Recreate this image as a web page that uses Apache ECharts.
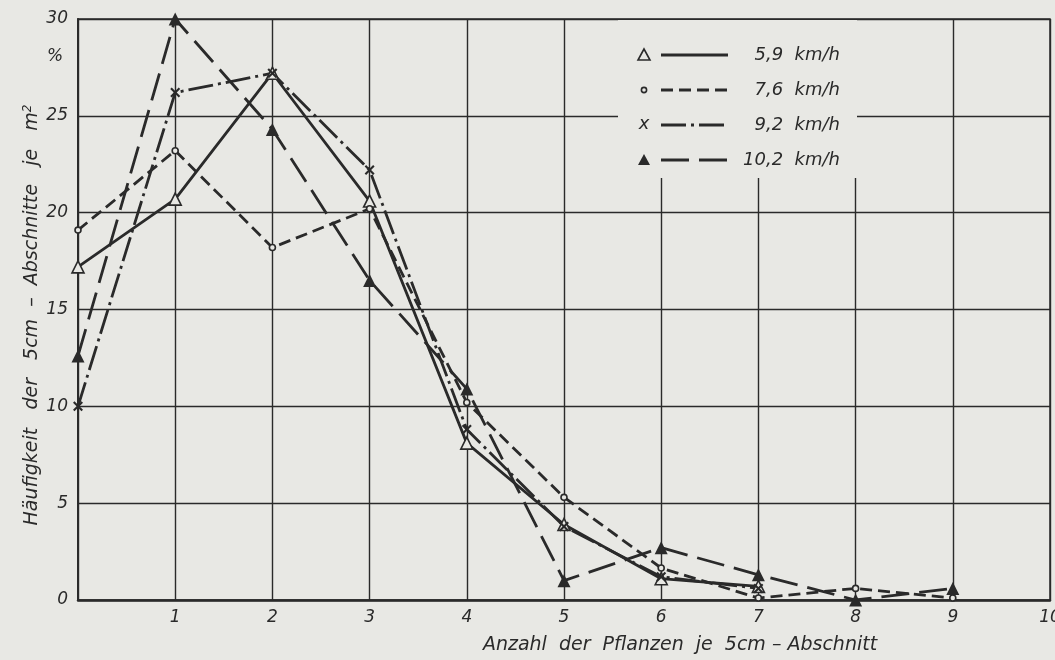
<!DOCTYPE html>
<html><head><meta charset="utf-8">
<script src="https://cdn.jsdelivr.net/npm/echarts@6/dist/echarts.min.js"></script>
<style>html,body{margin:0;padding:0;background:#e8e8e4;}#c{width:1055px;height:660px;}</style>
</head><body><div id="c"></div>
<script>
const xs = [0,1,2,3,4,5,6,7,8,9];
const xTickLabels = ['0','1','2','3','4','5','6','7','8','9','10'];
const yTickLabels = ['0','5','10','15','20','25','30'];
const seriesNames = ['5,9  km/h','7,6  km/h','9,2  km/h','10,2  km/h'];
const v59  = [17.2, 20.7, 27.2, 20.6, 8.1, 3.9, 1.1, 0.7];
const v76  = [19.1, 23.2, 18.2, 20.2, 10.2, 5.3, 1.65, 0.1, 0.6, 0.1];
const v92  = [10.0, 26.2, 27.2, 22.2, 8.8, 3.8, 1.2, 0.6];
const v102 = [12.6, 30.0, 24.3, 16.5, 10.9, 1.0, 2.7, 1.3, 0.0, 0.6];

const INK = '#2a2a2a', BG = '#e8e8e4';
const FONT = 'italic 18px "DejaVu Sans"';
const pairs = v => v.map((y,i)=>[xs[i], y]);
const crossPath = 'path://M0,1.5L1.5,0L5,3.5L8.5,0L10,1.5L6.5,5L10,8.5L8.5,10L5,6.5L1.5,10L0,8.5L3.5,5Z';

const chart = echarts.init(document.getElementById('c'));
const font = {fontFamily:'DejaVu Sans', fontStyle:'italic', color:INK};
chart.setOption({
  backgroundColor: BG,
  animation:false,
  grid:{left:78, top:19, right:5, bottom:60, show:true, borderColor:INK, borderWidth:1.5, outerBoundsMode:'none', containLabel:false},
  xAxis:{type:'value', min:0, max:10, interval:1,
    axisLine:{show:true, lineStyle:{color:INK, width:2.5}}, axisTick:{show:false},
    splitLine:{show:true, lineStyle:{color:INK, width:1.4}},
    axisLabel:Object.assign({fontSize:17, margin:9, showMinLabel:false,
      formatter:(v)=>xTickLabels[Math.round(v)]}, font)},
  yAxis:{type:'value', min:0, max:30, interval:5,
    axisLine:{show:true, lineStyle:{color:INK, width:2}}, axisTick:{show:false},
    splitLine:{show:true, lineStyle:{color:INK, width:1.4}},
    axisLabel:Object.assign({fontSize:17, margin:10, formatter:(v)=>yTickLabels[Math.round(v/5)]}, font)},
  graphic:[
    {type:'rect', z:50, shape:{x:618, y:20, width:239, height:158}, style:{fill:BG}},
    {type:'polygon', z:51, shape:{points:[[644,49],[638,60],[650,60]]}, style:{fill:BG, stroke:INK, lineWidth:1.6}},
    {type:'line', z:51, shape:{x1:661,y1:55,x2:728,y2:55}, style:{stroke:INK, lineWidth:2.8}},
    {type:'text', z:51, style:{text:seriesNames[0], x:840, y:55, align:'right', verticalAlign:'middle', font:FONT, fill:INK}},
    {type:'circle', z:51, shape:{cx:644, cy:90, r:2.6}, style:{fill:BG, stroke:INK, lineWidth:1.6}},
    {type:'line', z:51, shape:{x1:661,y1:90,x2:728,y2:90}, style:{stroke:INK, lineWidth:2.8, lineDash:[12,6]}},
    {type:'text', z:51, style:{text:seriesNames[1], x:840, y:90, align:'right', verticalAlign:'middle', font:FONT, fill:INK}},
    {type:'text', z:51, style:{text:'x', x:644, y:124, align:'center', verticalAlign:'middle', font:FONT, fill:INK}},
    {type:'line', z:51, shape:{x1:661,y1:125,x2:728,y2:125}, style:{stroke:INK, lineWidth:2.8, lineDash:[25,5,3,5]}},
    {type:'text', z:51, style:{text:seriesNames[2], x:840, y:125, align:'right', verticalAlign:'middle', font:FONT, fill:INK}},
    {type:'polygon', z:51, shape:{points:[[644,154],[638,165],[650,165]]}, style:{fill:INK}},
    {type:'line', z:51, shape:{x1:661,y1:160,x2:728,y2:160}, style:{stroke:INK, lineWidth:2.8, lineDash:[28,10]}},
    {type:'text', z:51, style:{text:seriesNames[3], x:840, y:160, align:'right', verticalAlign:'middle', font:FONT, fill:INK}},
    {type:'text', z:51, style:{text:'%', x:55, y:57, align:'center', verticalAlign:'middle', font:'italic 17px "DejaVu Sans"', fill:INK}},
    {type:'text', z:51, style:{text:'Anzahl  der  Pflanzen  je  5cm – Abschnitt', x:680, y:645, align:'center', verticalAlign:'middle', font:'italic 19px "DejaVu Sans"', fill:INK}},
    {type:'text', z:51, x:32, y:315, rotation:Math.PI/2, style:{text:'Häufigkeit   der   5cm  –  Abschnitte   je   m{s|2}', align:'center', verticalAlign:'middle', font:'italic 19px "DejaVu Sans"', fill:INK,
      rich:{s:{fontSize:12, fontStyle:'italic', fontFamily:'DejaVu Sans', verticalAlign:'top', padding:[0,0,9,0], fill:INK}}}}
  ],
  series:[
    {name:seriesNames[0], type:'line', data:pairs(v59), symbol:'triangle', symbolSize:12,
      lineStyle:{color:INK, width:2.8, type:'solid'}, itemStyle:{color:BG, borderColor:INK, borderWidth:1.6}, z:3},
    {name:seriesNames[1], type:'line', data:pairs(v76), symbol:'circle', symbolSize:6,
      lineStyle:{color:INK, width:2.8, type:[12,6]}, itemStyle:{color:BG, borderColor:INK, borderWidth:1.6}, z:3},
    {name:seriesNames[2], type:'line', data:pairs(v92), symbol:crossPath, symbolSize:10,
      lineStyle:{color:INK, width:2.8, type:[25,5,3,5]}, itemStyle:{color:INK}, z:3},
    {name:seriesNames[3], type:'line', data:pairs(v102), symbol:'triangle', symbolSize:13,
      lineStyle:{color:INK, width:2.8, type:[28,10]}, itemStyle:{color:INK}, z:3}
  ]
});
</script></body></html>
